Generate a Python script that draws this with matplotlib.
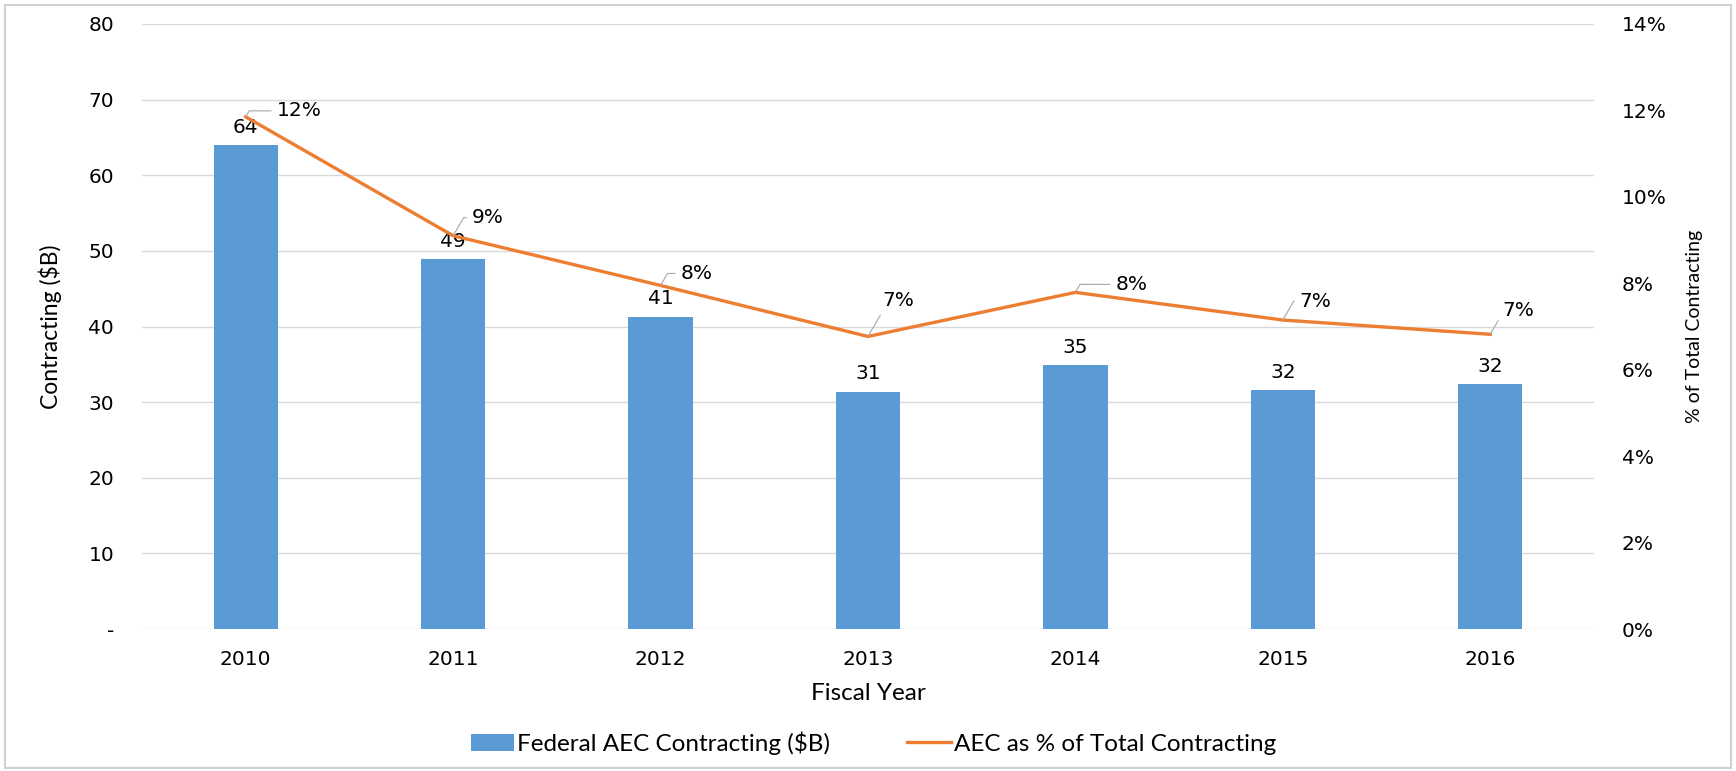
import matplotlib.pyplot as plt
from matplotlib.patches import Rectangle
from matplotlib.ticker import FuncFormatter

years = ["2010", "2011", "2012", "2013", "2014", "2015", "2016"]
contracting = [64.0, 48.9, 41.3, 31.4, 34.9, 31.6, 32.4]
pct_total = [11.85, 9.1, 7.95, 6.77, 7.79, 7.15, 6.82]

# label offsets (pixels) for the % data labels, layout only
pct_offsets = [(31, 6), (19, 18), (20, 12), (14, 36), (40, 8), (17, 19), (12, 24)]

bar_color = "#5B9BD5"
line_color = "#ED7D31"
grid_color = "#D9D9D9"
label_font = ["Lato", "DejaVu Sans"]
num_size = 14.5

fig = plt.figure(figsize=(17.36, 7.71), dpi=100)
fig.patches.append(Rectangle((0.003, 0.004), 0.994, 0.99, transform=fig.transFigure,
                             fill=False, edgecolor="#D0D0D0", lw=1.5))
ax = fig.add_axes([0.0818, 0.184, 0.8364, 0.785])
ax2 = ax.twinx()

x = list(range(len(years)))
bars = ax.bar(x, contracting, width=0.31, color=bar_color, zorder=2,
              label="Federal AEC Contracting ($B)")
ax.bar_label(bars, labels=[f"{v:.0f}" for v in contracting], padding=6, fontsize=num_size)

ax.set_xlim(-0.5, len(years) - 0.5)
ax.set_ylim(0, 80)
ax.set_yticks(range(0, 81, 10))
ax.yaxis.set_major_formatter(FuncFormatter(lambda v, p: "-" if v == 0 else f"{v:.0f}"))
ax.set_xticks(x)
ax.set_xticklabels(years)
ax.grid(axis="y", color=grid_color, lw=1, zorder=0)
ax.set_axisbelow(True)
ax.tick_params(axis="y", length=0, pad=20, labelsize=num_size)
ax.tick_params(axis="x", length=0, pad=15, labelsize=num_size)
for s in ax.spines.values():
    s.set_visible(False)

ln, = ax2.plot(x, pct_total, color=line_color, lw=2.4, zorder=3,
               label="AEC as % of Total Contracting")
ax2.set_ylim(0, 14)
ax2.set_yticks(range(0, 15, 2))
ax2.yaxis.set_major_formatter(FuncFormatter(lambda v, p: f"{v:.0f}%"))
ax2.tick_params(axis="y", length=0, pad=20, labelsize=num_size)
for s in ax2.spines.values():
    s.set_visible(False)

for xi, v, off in zip(x, pct_total, pct_offsets):
    ax2.annotate(f"{v:.0f}%", (xi, v), xytext=off, textcoords="offset pixels",
                 ha="left", va="center", fontsize=num_size,
                 arrowprops=dict(arrowstyle="-", color="#A6A6A6", lw=0.8,
                                 shrinkA=2, shrinkB=0, relpos=(0, 0.5),
                                 connectionstyle="angle,angleA=0,angleB=60,rad=0"))

fig.text(0.029, 0.576, "Contracting ($B)", rotation=90, ha="center", va="center",
         fontsize=16.5, family=label_font)
fig.text(0.976, 0.576, "% of Total Contracting", rotation=90, ha="center", va="center",
         fontsize=14, family=label_font)
fig.text(0.5, 0.101, "Fiscal Year", ha="center", va="center", fontsize=17.5, family=label_font)

fig.legend(handles=[bars, ln], loc="center", bbox_to_anchor=(0.503, 0.036), ncol=2,
           frameon=False, prop={"family": label_font, "size": 17.5},
           handlelength=1.8, handletextpad=0.1, columnspacing=3.2)

fig.savefig("out.png", dpi=100)
